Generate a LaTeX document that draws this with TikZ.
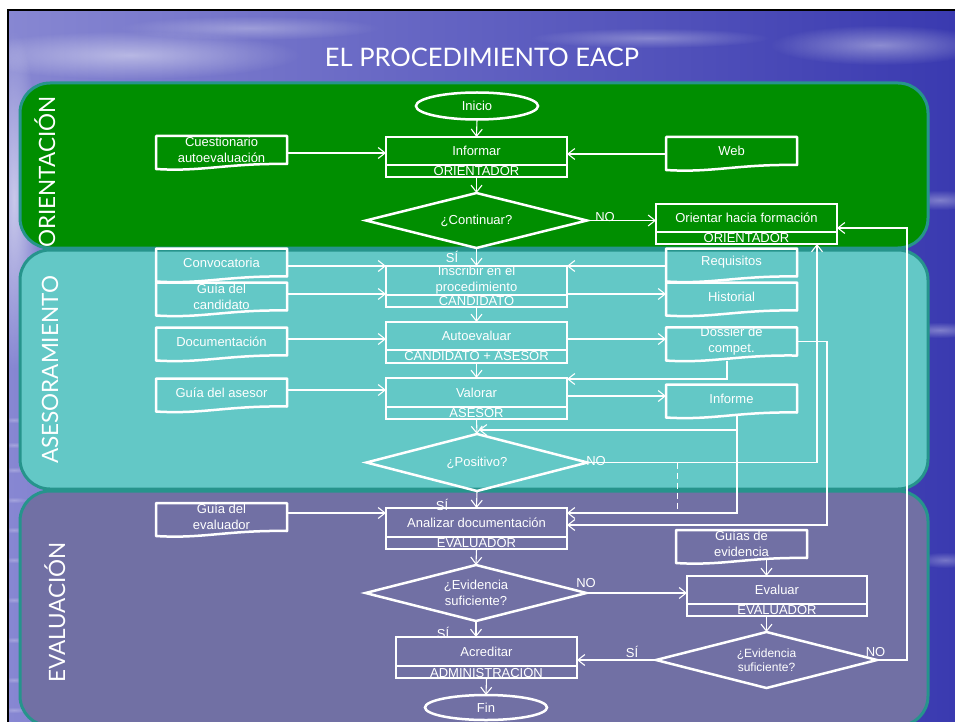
\documentclass[tikz,border=0pt]{standalone}
\usepackage{fontspec}
\setmainfont{Liberation Sans}
\newfontfamily\headfont{Lato}
\usetikzlibrary{shapes.geometric, arrows.meta, fadings, calc}

\definecolor{laneG}{RGB}{0,142,0}
\definecolor{laneT}{RGB}{99,200,198}
\definecolor{laneP}{RGB}{113,112,164}
\definecolor{laneEdge}{RGB}{38,148,140}
\definecolor{skyA}{RGB}{135,135,210}
\definecolor{skyB}{RGB}{82,82,186}
\definecolor{skyC}{RGB}{58,58,176}

\tikzfading[name=fuzzy, inner color=transparent!0, outer color=transparent!100]

% wavy-bottomed document outline around a docbox node
\newcommand\docoutline[1]{%
  \draw[white, line width=2.5pt, line join=round]
    (#1.south east) -- (#1.north east) -- (#1.north west) -- ([yshift=-5pt]#1.south west)
    .. controls ($(#1.south west)!0.35!(#1.south east)+(0,8)$)
           and ($(#1.south west)!0.55!(#1.south east)+(0,-1)$) .. (#1.south east) -- cycle;}

\begin{document}
\begin{tikzpicture}[x=1pt, y=-1pt,
  every node/.style={text=white, font=\fontsize{13}{16}\selectfont},
  lane/.style={draw=laneEdge, line width=3pt, rounded corners=30pt},
  lanetitle/.style={rotate=90, anchor=base, font=\headfont\fontsize{22.5}{26}\selectfont},
  procbox/.style={rectangle, draw=white, line width=2.5pt, minimum width=181pt, minimum height=29pt, inner sep=0pt, outer sep=0pt, align=center},
  rolebox/.style={rectangle, draw=white, line width=2.5pt, minimum width=181pt, minimum height=12pt, inner sep=0pt, outer sep=0pt, anchor=north},
  decision/.style={diamond, draw=white, line width=2.5pt, aspect=4, inner sep=0pt, outer sep=0pt, minimum width=221pt, minimum height=56pt, align=center},
  terminal/.style={ellipse, draw=white, line width=2.5pt, minimum width=122pt, minimum height=27pt, inner sep=0pt, outer sep=0pt},
  docbox/.style={rectangle, minimum width=131pt, minimum height=28pt, inner sep=0pt, outer sep=0pt, align=center},
  flow/.style={draw=white, line width=1.1pt, -{Straight Barb[length=7pt, width=11pt]}},
  tag/.style={inner sep=0pt, outer sep=0pt},
]
\useasboundingbox (0,0) rectangle (955,722);

% ---- sky background ----
\fill[white] (0,0) rectangle (955,722);
\shade[left color=skyA, middle color=skyB, right color=skyC] (8,10) rectangle (955,722);
\fill[white, fill opacity=0.45, path fading=fuzzy] (130,55) ellipse (170 and 24);
\fill[white, fill opacity=0.30, path fading=fuzzy] (250,28) ellipse (130 and 12);
\fill[white, fill opacity=0.30, path fading=fuzzy] (650,38) ellipse (120 and 10);
\fill[white, fill opacity=0.40, path fading=fuzzy] (880,45) ellipse (110 and 20);
\fill[white, fill opacity=0.35, path fading=fuzzy] (940,200) ellipse (40 and 10);
\fill[white, fill opacity=0.35, path fading=fuzzy] (940,330) ellipse (40 and 8);
\fill[white, fill opacity=0.30, path fading=fuzzy] (945,560) ellipse (30 and 8);
\fill[white, fill opacity=0.55, path fading=fuzzy] (14,200) ellipse (25 and 170);
\foreach \yy in {420,445,470,500,530,560,600,640,680,710}
  \fill[white, fill opacity=0.25, path fading=fuzzy] (14,\yy) ellipse (14 and 3);
\draw[black, line width=2pt] (8,722) -- (8,10) -- (955,10);

% ---- title ----
\node[anchor=base, font=\headfont\fontsize{25.5}{30}\selectfont] (title) at (482,67) {EL PROCEDIMIENTO EACP};

% ---- swimlanes ----
\draw[lane, fill=laneP] (20,491) rectangle (928,726);
\draw[lane, fill=laneT] (20,250) rectangle (928,489);
\draw[lane, fill=laneG] (20,83) rectangle (928,248);
\node[lanetitle] (laneO) at (55,172) {ORIENTACIÓN};
\node[lanetitle] (laneA) at (58,370) {ASESORAMIENTO};
\node[lanetitle] (laneE) at (65,612.5) {EVALUACIÓN};

% ---- main column ----
\node[terminal] (ini) at (477,106) {Inicio};
\node[procbox, minimum height=28pt] (inf) at (476.5,151) {Informar};
\node[rolebox] (infr) at (inf.south) {ORIENTADOR};
\node[decision, minimum height=55pt] (cont) at (476.5,220.5) {¿Continuar?};
\node[procbox, font=\fontsize{13}{16}\selectfont] (ins) at (476.5,280.5) {Inscribir en el\\procedimiento};
\node[rolebox] (insr) at (ins.south) {CANDIDATO};
\node[procbox, minimum height=28pt] (aut) at (476.5,336) {Autoevaluar};
\node[rolebox, minimum height=13pt] (autr) at (aut.south) {CANDIDATO + ASESOR};
\node[procbox] (val) at (476.5,392.5) {Valorar};
\node[rolebox] (valr) at (val.south) {ASESOR};
\node[decision, minimum height=57pt] (pos) at (477,462.5) {¿Positivo?};
\node[procbox] (ana) at (476.5,522.5) {Analizar documentación};
\node[rolebox] (anar) at (ana.south) {EVALUADOR};
\node[decision] (ev1) at (476,593) {¿Evidencia\\suficiente?};
\node[procbox] (acr) at (486.5,651.5) {Acreditar};
\node[rolebox] (acrr) at (acr.south) {ADMINISTRACIÓN};
\node[terminal, minimum height=25pt] (fin) at (486,707.5) {Fin};

% ---- right column ----
\node[procbox, minimum height=28pt] (ori) at (746.5,218) {Orientar hacia formación};
\node[rolebox] (orir) at (ori.south) {ORIENTADOR};
\node[procbox, minimum width=180pt, minimum height=28pt] (eva) at (777,590) {Evaluar};
\node[rolebox, minimum width=180pt] (evar) at (eva.south) {EVALUADOR};
\node[decision, font=\fontsize{12}{14}\selectfont] (ev2) at (766.5,660) {¿Evidencia\\suficiente?};

% ---- documents ----
\node[docbox] (cue) at (221.5,150) {Cuestionario\\autoevaluación};
\node[docbox] (web) at (731.5,151) {Web};
\node[docbox] (conv) at (221.5,262.5) {Convocatoria};
\node[docbox] (gcand) at (221.5,296.5) {Guía del\\candidato};
\node[docbox] (docu) at (221.5,341.5) {Documentación};
\node[docbox] (gases) at (221.5,392.5) {Guía del asesor};
\node[docbox] (req) at (731.5,262.5) {Requisitos};
\node[docbox] (hist) at (731.5,296.5) {Historial};
\node[docbox] (dos) at (731.5,341.5) {Dossier de\\compet.};
\node[docbox] (infm) at (731.5,398.5) {Informe};
\node[docbox] (geva) at (221.5,517) {Guía del\\evaluador};
\node[docbox] (gevid) at (741.5,544) {Guías de\\evidencia};
\foreach \d in {cue,web,conv,gcand,docu,gases,req,hist,dos,infm,geva,gevid}
  \docoutline{\d};

% ---- branch labels ----
\node[tag] (noA) at (605,217) {NO};
\node[tag] (siA) at (452,257) {SÍ};
\node[tag] (noB) at (596,461) {NO};
\node[tag] (siB) at (442,505) {SÍ};
\node[tag] (noC) at (586,583) {NO};
\node[tag] (siC) at (443,633) {SÍ};
\node[tag] (siD) at (632,652) {SÍ};
\node[tag] (noD) at (875.5,652) {NO};

% ---- connectors ----
\draw[flow] (ini.south) -- (inf.north);
\draw[flow] (infr.south) -- (cont.north);
\draw[flow] ([yshift=-3pt]cue.east) -- ([yshift=-3pt]cue.east -| inf.west);
\draw[flow] ([yshift=-3pt]web.west) -- ([yshift=-3pt]web.west -| inf.east);
\draw[flow] (cont.east) -- (cont.east -| ori.west);
\draw[flow] (cont.south) -- (ins.north);
\draw[flow] ([yshift=-3.5pt]conv.east) -- ([yshift=-3.5pt]conv.east -| ins.west);
\draw[flow] ([yshift=2.5pt]gcand.east) -- ([yshift=2.5pt]gcand.east -| ins.west);
\draw[flow] ([yshift=-3.5pt]req.west) -- ([yshift=-3.5pt]req.west -| ins.east);
\draw[flow] ([yshift=2.5pt]hist.west -| ins.east) -- ([yshift=2.5pt]hist.west);
\draw[flow] (insr.south) -- (aut.north);
\draw[flow] ([yshift=2.5pt]docu.east) -- ([yshift=2.5pt]docu.east -| aut.west);
\draw[flow] ([yshift=2.5pt]dos.west -| aut.east) -- ([yshift=2.5pt]dos.west);
\draw[flow] (autr.south) -- (val.north);
\draw[flow] ([yshift=2.5pt]gases.east) -- ([yshift=2.5pt]gases.east -| val.west);
\draw[flow] ([yshift=2.5pt]infm.west -| val.east) -- ([yshift=2.5pt]infm.west);
\draw[flow] ([xshift=-4.5pt,yshift=-5pt]dos.south) |- ([yshift=-1pt]val.north east);
\draw[flow] (dos.east) -- ++(30,0) |- ([yshift=-2.5pt]ana.east);
\draw[flow] ([xshift=5.5pt,yshift=-3pt]infm.south) |- ([xshift=2pt,yshift=4pt]pos.north);
\draw[flow] ([xshift=5.5pt,yshift=-3pt]infm.south) |- ([yshift=9.5pt]ana.east);
\draw[flow] (valr.south) -- (pos.north);
\draw[flow] (pos.east) -| ([xshift=70.5pt]orir.south);
\coordinate (dashTop) at (677,462.5);
\coordinate (dashBot) at (677,513);
\draw[white, line width=1pt, dash pattern=on 6pt off 4pt] (dashTop) -- (dashBot);
\draw[flow] (pos.south) -- (ana.north);
\draw[flow] ([yshift=4pt]geva.east) -- ([yshift=4pt]geva.east -| ana.west);
\draw[flow] (anar.south) -- (ev1.north);
\draw[flow] (ev1.east) -- (ev1.east -| eva.west);
\draw[flow] (ev1.south) -- (ev1.south |- acr.north);
\draw[flow] (acrr.south) -- (fin.north);
\draw[flow] (ev2.north |- gevid.south) -- (ev2.north |- eva.north);
\draw[flow] (ev2.north |- evar.south) -- (ev2.north);
\draw[flow] (ev2.west) -- (ev2.west -| acr.east);
\draw[flow] (ev2.east) -- ++(30,0) |- ([yshift=-10pt]ori.east);
\end{tikzpicture}
\end{document}
